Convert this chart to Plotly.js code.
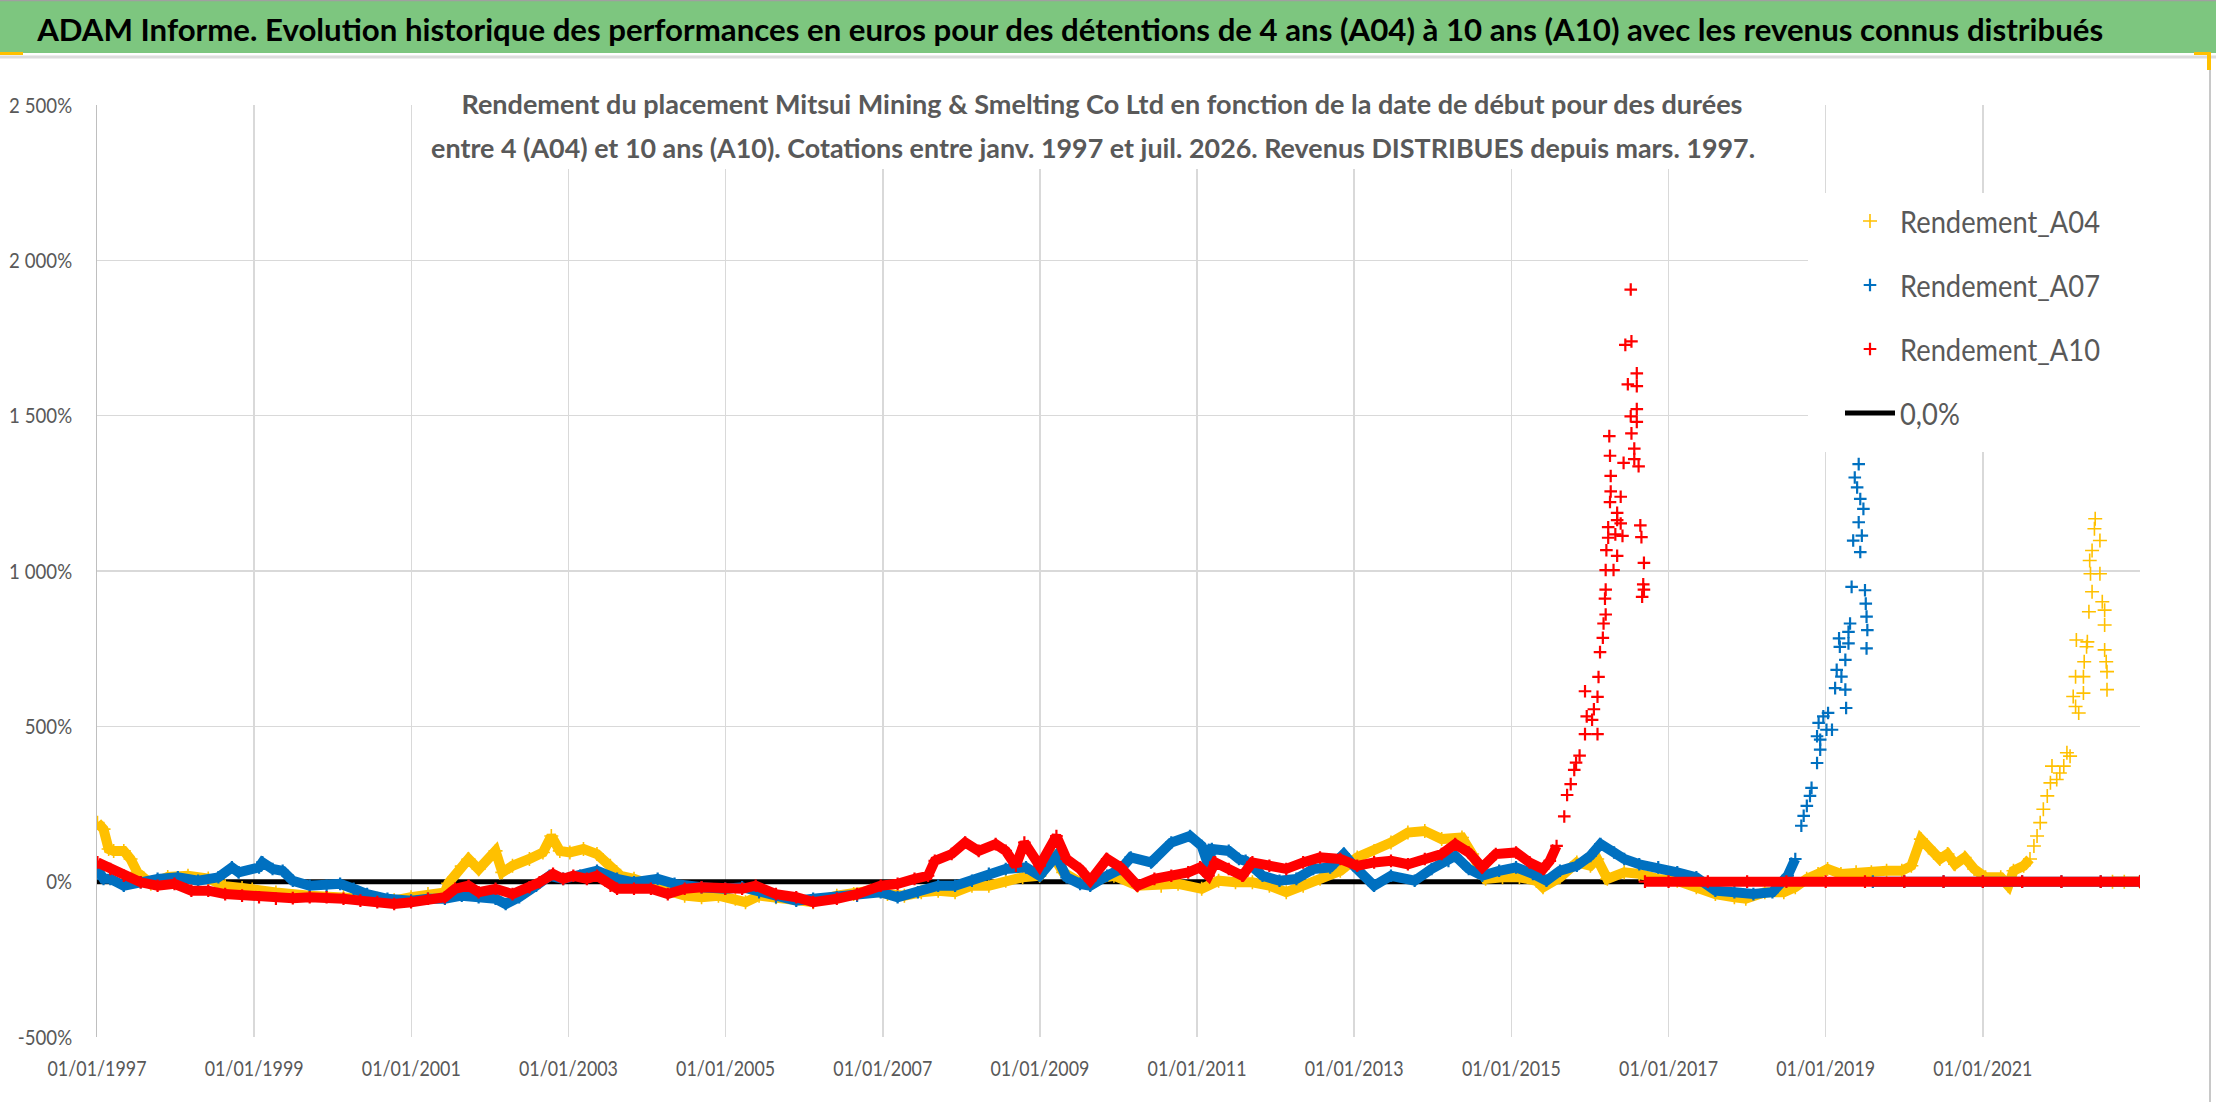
<!DOCTYPE html>
<html><head><meta charset="utf-8">
<script src="https://cdn.plot.ly/plotly-3.0.1.min.js"></script>
<style>html,body{margin:0;padding:0;background:#fff;overflow:hidden}#chart{width:2216px;height:1102px}</style>
</head><body><div id="chart"></div><script>
// ---- DATA (x = start date in decimal years, y = return in %) ----
const xTickVals = [1997, 1999, 2001, 2003, 2005, 2007, 2009, 2011, 2013, 2015, 2017, 2019, 2021];
const xTickText = ['01/01/1997','01/01/1999','01/01/2001','01/01/2003','01/01/2005','01/01/2007','01/01/2009','01/01/2011','01/01/2013','01/01/2015','01/01/2017','01/01/2019','01/01/2021'];
const yTickVals = [-500, 0, 500, 1000, 1500, 2000, 2500];
const yTickText = ['-500%', '0%', '500%', '1 000%', '1 500%', '2 000%', '2 500%'];

const datesA04 = [
 1997.006,1997.083,1997.148,1997.212,1997.341,1997.427,1997.513,1997.599,1997.685,1997.900,
 1998.158,1998.416,1998.631,1998.846,1998.975,1999.277,1999.707,2000.137,2000.567,2000.782,
 2000.997,2001.212,2001.427,2001.470,2001.642,2001.728,2001.857,2002.072,2002.158,2002.288,
 2002.503,2002.675,2002.782,2002.890,2003.018,2003.191,2003.363,2003.533,2003.662,2003.834,
 2004.049,2004.264,2004.479,2004.694,2004.909,2005.124,2005.253,2005.426,2005.641,2005.899,
 2006.114,2006.415,2006.630,2006.845,2007.060,2007.275,2007.490,2007.705,2007.920,2008.135,
 2008.350,2008.565,2008.780,2008.996,2009.167,2009.296,2009.511,2009.727,2009.942,2010.242,
 2010.543,2010.758,2011.059,2011.274,2011.489,2011.704,2011.920,2012.135,2012.350,2012.565,
 2012.823,2013.038,2013.253,2013.468,2013.683,2013.898,2014.113,2014.371,2014.500,2014.672,
 2014.887,2015.102,2015.317,2015.403,2015.618,2015.833,2016.006,2016.092,2016.221,2016.436,
 2016.627,2016.869,2017.111,2017.354,2017.596,2017.838,2017.983,2018.225,2018.467,2018.613,
 2018.758,2018.903,2019.024,2019.194,2019.387,2019.581,2019.775,2019.969,2020.090,2020.211,
 2020.308,2020.453,2020.550,2020.646,2020.768,2020.889,2021.034,2021.228,2021.324,2021.390,
 2021.520,2021.600,2021.650,2021.690,2021.730,2021.770,2021.820,2021.860,2021.880,2021.940,
 2021.980,2022.030,2022.070,2022.110,2022.150,2022.180,2022.180,2022.190,2022.220,2022.280,
 2022.280,2022.290,2022.320,2022.330,2022.350,2022.360,2022.370,2022.390,2022.390,2022.420,
 2022.430,2022.490,2022.490,2022.520,2022.550,2022.550,2022.550,2022.570,2022.580,2022.580,
 2022.650,2022.800,2023.000];
const rendA04 = [
 190,169,105,99,99,73,30,9,-7,15,
 19,10,-15,-20,-25,-35,-45,-50,-55,-60,
 -50,-40,-35,-5,50,73,40,99,30,51,
 73,94,147,99,94,105,89,51,19,9,
 -13,-29,-45,-50,-45,-55,-66,-45,-50,-55,
 -66,-45,-40,-29,-40,-45,-34,-29,-34,-13,
 -13,3,14,19,83,30,-2,9,19,-13,
 -13,-7,-23,3,-2,-2,-13,-34,-13,9,
 35,78,99,126,158,163,137,142,89,9,
 14,14,3,-18,14,62,51,73,9,30,
 25,9,3,-18,-40,-50,-55,-34,-34,-18,
 9,25,41,25,30,30,35,35,51,137,
 110,73,89,56,78,41,14,14,-13,35,
 51,73,115,147,190,233,276,318,372,329,
 350,372,415,404,596,564,660,778,543,607,
 660,708,756,772,869,1034,991,933,1066,1136,
 1168,1098,991,901,874,826,746,708,676,618,
 0,0,0];

const datesA07 = [
 1997.006,1997.083,1997.169,1997.341,1997.556,1997.771,1998.029,1998.287,1998.545,1998.717,
 1998.803,1999.062,1999.105,1999.234,1999.363,1999.492,1999.707,1999.922,2000.094,2000.266,
 2000.438,2000.696,2000.997,2001.212,2001.427,2001.642,2001.857,2002.072,2002.201,2002.373,
 2002.589,2002.761,2002.933,2003.148,2003.363,2003.619,2003.834,2004.135,2004.350,2004.694,
 2004.995,2005.210,2005.426,2005.641,2005.899,2006.114,2006.415,2006.673,2006.974,2007.189,
 2007.447,2007.705,2007.920,2008.135,2008.350,2008.565,2008.823,2008.996,2009.210,2009.339,
 2009.511,2009.640,2009.856,2010.030,2010.156,2010.414,2010.672,2010.909,2011.059,2011.145,
 2011.188,2011.403,2011.532,2011.618,2011.833,2012.049,2012.264,2012.479,2012.694,2012.866,
 2012.995,2013.253,2013.468,2013.769,2013.984,2014.199,2014.285,2014.457,2014.629,2014.844,
 2015.059,2015.274,2015.446,2015.618,2015.833,2016.006,2016.135,2016.307,2016.436,2016.627,
 2016.869,2017.111,2017.354,2017.596,2017.838,2018.080,2018.322,2018.516,2018.613,2018.690,
 2018.720,2018.760,2018.800,2018.820,2018.890,2018.890,2018.910,2018.930,2018.930,2018.970,
 2019.010,2019.030,2019.080,2019.120,2019.140,2019.170,2019.180,2019.200,2019.250,2019.250,
 2019.260,2019.290,2019.290,2019.310,2019.330,2019.350,2019.370,2019.400,2019.420,2019.420,
 2019.440,2019.440,2019.460,2019.480,2019.500,2019.510,2019.520,2019.520,2019.530,2019.600,
 2020.000,2020.500,2021.000,2021.500,2022.000,2022.500,2023.000];
const rendA07 = [
 41,9,9,-13,-2,9,14,3,14,46,
 30,46,62,41,35,3,-13,-13,-7,-23,
 -40,-55,-61,-55,-55,-45,-50,-55,-72,-50,
 -13,19,9,19,35,9,-2,9,-7,-18,
 -23,-18,-34,-50,-61,-55,-50,-45,-34,-50,
 -34,-13,-13,3,25,41,46,19,83,14,
 -7,-13,19,41,78,62,126,147,115,51,
 105,99,73,67,19,3,9,41,46,89,
 51,-13,19,3,41,67,83,41,19,35,
 46,25,3,35,51,83,121,94,73,56,
 46,30,14,-29,-34,-40,-34,19,73,180,
 212,244,276,302,382,468,511,425,457,532,
 489,543,489,623,682,783,756,660,618,714,
 559,767,804,831,949,1098,1301,1269,1157,1344,
 1061,1232,1114,1200,938,895,853,751,810,0,
 0,0,0,0,0,0,0];

const datesA10 = [
 1997.006,1997.169,1997.341,1997.556,1997.771,1997.986,1998.201,1998.416,1998.631,1998.846,
 1999.062,1999.277,1999.492,1999.707,1999.922,2000.137,2000.352,2000.567,2000.782,2000.997,
 2001.212,2001.427,2001.556,2001.728,2001.857,2002.072,2002.288,2002.503,2002.632,2002.804,
 2002.933,2003.062,2003.234,2003.363,2003.535,2003.619,2003.834,2004.049,2004.264,2004.479,
 2004.694,2004.995,2005.210,2005.383,2005.641,2005.899,2006.114,2006.415,2006.673,2006.974,
 2007.189,2007.404,2007.576,2007.662,2007.877,2008.049,2008.221,2008.436,2008.565,2008.694,
 2008.802,2008.996,2009.210,2009.339,2009.511,2009.640,2009.856,2010.028,2010.242,2010.457,
 2010.672,2010.887,2011.038,2011.145,2011.231,2011.403,2011.575,2011.704,2011.920,2012.135,
 2012.350,2012.565,2012.823,2013.038,2013.253,2013.468,2013.683,2013.898,2014.113,2014.285,
 2014.457,2014.629,2014.801,2015.059,2015.231,2015.403,2015.489,2015.575,2015.673,2015.709,
 2015.755,2015.800,2015.823,2015.868,2015.937,2015.937,2015.959,2016.027,2016.050,2016.096,
 2016.096,2016.109,2016.128,2016.164,2016.173,2016.191,2016.200,2016.200,2016.200,2016.209,
 2016.232,2016.232,2016.246,2016.255,2016.255,2016.264,2016.264,2016.300,2016.323,2016.346,
 2016.346,2016.346,2016.391,2016.391,2016.414,2016.428,2016.450,2016.482,2016.519,2016.519,
 2016.528,2016.528,2016.564,2016.564,2016.596,2016.596,2016.596,2016.596,2016.619,2016.641,
 2016.655,2016.664,2016.678,2016.687,2016.687,2016.700,2017.000,2017.500,2018.000,2018.500,
 2019.000,2019.500,2020.000,2020.500,2021.000,2021.500,2022.000,2022.500,2023.000];
const rendA10 = [
 62,41,19,-2,-13,-7,-29,-29,-40,-45,
 -50,-55,-53,-50,-50,-55,-61,-66,-72,-66,
 -55,-50,-23,-13,-34,-23,-40,-18,-2,25,
 9,19,9,19,-13,-23,-23,-23,-40,-23,
 -18,-23,-23,-13,-40,-50,-66,-55,-40,-13,
 -7,9,19,67,89,126,99,121,99,51,
 126,51,147,73,41,3,73,46,-13,9,
 19,30,46,19,62,41,19,62,51,41,
 62,78,73,51,62,67,56,73,89,121,
 94,46,89,94,62,41,67,115,210,279,
 314,360,383,406,475,613,532,521,555,475,
 595,659,739,785,831,911,860,940,1003,1067,
 1107,1141,1434,1222,1371,1256,1306,1003,1118,1049,
 1164,1187,1153,1239,1113,1348,1728,1601,1498,1906,
 1443,1739,1360,1394,1480,1521,1636,1595,1337,1147,
 1109,917,957,1026,940,0,0,0,0,0,
 0,0,0,0,0,0,0,0,0];

const zeroDates = [1997, 2023];
const zeroVals = [0, 0];

// periods where the points are scattered (no continuous band)
const scatteredA04 = [2021.62, 2022.60];
const scatteredA07 = [2018.65, 2019.55];
const scatteredA10 = [2015.60, 2016.695];

const seriesNames = ['Rendement_A04', 'Rendement_A07', 'Rendement_A10', '0,0%'];
const titleText = 'ADAM Informe. Evolution historique des performances en euros pour des détentions de 4 ans (A04) à 10 ans (A10) avec les revenus connus distribués';
const subLine1 = 'Rendement du placement Mitsui Mining &amp; Smelting Co Ltd en fonction de la date de début pour des durées';
const subLine2 = 'entre 4 (A04) et 10 ans (A10). Cotations entre janv. 1997 et juil. 2026. Revenus DISTRIBUES depuis mars. 1997.';

// ---- LAYOUT HELPERS ----
const PL = 97, PR = 2140, PT = 105, PB = 1037;
const px = v => (v - PL) / (PR - PL);
const py = v => (PB - v) / (PB - PT);
const FONT = "Lato, 'Open Sans', sans-serif";
const GREY = '#595959';

function bandY(xs, ys, r) { return ys.map((v, i) => (xs[i] >= r[0] && xs[i] <= r[1]) ? null : v); }

function seriesTraces(xs, ys, r, name, col, grp, rank, msize, mwidth) {
  return [
    { x: xs, y: bandY(xs, ys, r), type: 'scatter', mode: 'lines', line: { color: col, width: 10 },
      showlegend: false, legendgroup: grp, hoverinfo: 'skip', connectgaps: false },
    { x: xs, y: ys, type: 'scatter', mode: 'markers', name: name, legendgroup: grp, legendrank: rank,
      marker: { symbol: 'cross-thin', size: msize, color: col, line: { color: col, width: mwidth } } }
  ];
}

const traces = [
  { x: zeroDates, y: zeroVals, type: 'scatter', mode: 'lines', name: seriesNames[3], legendgroup: 'z', legendrank: 4,
    line: { color: '#000000', width: 5 } },
  ...seriesTraces(datesA04, rendA04, scatteredA04, seriesNames[0], '#FFC000', 'a04', 1, 10, 1.6),
  ...seriesTraces(datesA07, rendA07, scatteredA07, seriesNames[1], '#0070C0', 'a07', 2, 9, 2.2),
  ...seriesTraces(datesA10, rendA10, scatteredA10, seriesNames[2], '#FF0000', 'a10', 3, 9, 2.2)
];

const rect = (x0, y0, x1, y1, fill, layer) => ({ type: 'rect', xref: 'paper', yref: 'paper',
  x0: px(x0), x1: px(x1), y0: py(y1), y1: py(y0), fillcolor: fill, line: { width: 0 }, layer: layer });
const seg = (x0, y0, x1, y1, col, w) => ({ type: 'line', xref: 'paper', yref: 'paper',
  x0: px(x0), x1: px(x1), y0: py(y0), y1: py(y1), line: { color: col, width: w }, layer: 'above' });

const layout = {
  width: 2216, height: 1102,
  margin: { l: PL, r: 2216 - PR, t: PT, b: 1102 - PB, pad: 0 },
  paper_bgcolor: '#ffffff', plot_bgcolor: '#ffffff',
  font: { family: FONT, color: GREY },
  showlegend: true,
  legend: { x: px(1840), y: py(195), xanchor: 'left', yanchor: 'top', bgcolor: 'rgba(255,255,255,0)',
    font: { family: FONT, size: 30, color: GREY }, itemwidth: 50, traceorder: 'grouped', tracegroupgap: 22, borderwidth: 0 },
  xaxis: { type: 'linear', range: [1997, 2023], tickmode: 'array', tickvals: xTickVals, ticktext: xTickText,
    showgrid: true, gridcolor: '#d9d9d9', gridwidth: 1.5, showline: false, zeroline: false, ticks: '',
    tickfont: { family: FONT, size: 22, color: GREY }, ticklabelstandoff: 16, fixedrange: true },
  yaxis: { range: [-500, 2500], tickmode: 'array', tickvals: yTickVals, ticktext: yTickText,
    showgrid: true, gridcolor: '#d9d9d9', gridwidth: 1.5, showline: true, linecolor: '#bfbfbf', linewidth: 1.5,
    zeroline: false, ticks: '', tickfont: { family: FONT, size: 22, color: GREY }, ticklabelstandoff: 19, fixedrange: true },
  shapes: [
    rect(0, 1, 2216, 53, '#7DC67F', 'below'),
    seg(0, 0.5, 2216, 0.5, '#a0a0a0', 1.5),
    seg(0, 57, 2216, 57, '#dcdcdc', 3),
    seg(0, 53.5, 23, 53.5, '#FFC000', 3),
    seg(2194, 53.5, 2211, 53.5, '#FFC000', 3),
    seg(2209, 53, 2209, 70, '#FFC000', 4),
    seg(2210, 70, 2210, 1102, '#c8c8c8', 2),
    rect(439, 82, 1764, 169, '#ffffff', 'above'),
    rect(1808, 193, 2140, 452, '#ffffff', 'above')
  ],
  annotations: [
    { text: '<b>' + titleText + '</b>', xref: 'paper', yref: 'paper', x: px(1069), y: py(29), xanchor: 'center', yanchor: 'middle',
      showarrow: false, borderpad: 0, font: { family: FONT, size: 30, color: '#000000' } },
    { text: '<b>' + subLine1 + '</b>', xref: 'paper', yref: 'paper', x: px(1102), y: py(104), xanchor: 'center', yanchor: 'middle',
      showarrow: false, borderpad: 0, font: { family: FONT, size: 27, color: GREY } },
    { text: '<b>' + subLine2 + '</b>', xref: 'paper', yref: 'paper', x: px(1093), y: py(147), xanchor: 'center', yanchor: 'middle',
      showarrow: false, borderpad: 0, font: { family: FONT, size: 27, color: GREY } }
  ]
};

// the reference uses a narrow typeface: compress the rendered texts horizontally to the measured widths
function fitWidth(el, target) {
  el.setAttribute('textLength', target.toFixed(1));
  el.setAttribute('lengthAdjust', 'spacingAndGlyphs');
}
function squeezeGroup(els, refIndex, refWidth) {
  if (!els.length) return;
  const n = els[refIndex].getComputedTextLength();
  if (!(n > 0)) return;
  const f = refWidth / n;
  els.forEach(el => fitWidth(el, el.getComputedTextLength() * f));
}

Plotly.newPlot('chart', traces, layout, { staticPlot: true, displayModeBar: false }).then(gd => {
  const annWidths = [2066, 1281, 1324];
  gd.querySelectorAll('.annotation').forEach((g, i) => {
    const el = g.querySelector('.annotation-text');
    if (!el || !annWidths[i]) return;
    fitWidth(el, annWidths[i]);
    const bg = g.querySelector('rect.bg');
    if (bg) {
      const w = parseFloat(bg.getAttribute('width')) || 0;
      const x = parseFloat(bg.getAttribute('x')) || 0;
      const nw = annWidths[i] + 4;
      bg.setAttribute('x', (x + (w - nw) / 2).toFixed(1));
      bg.setAttribute('width', nw.toFixed(1));
    }
  });
  squeezeGroup(Array.from(gd.querySelectorAll('.legendtext')), 0, 200);
  const yt = Array.from(gd.querySelectorAll('.ytick text'));
  const yi = yt.findIndex(t => t.textContent.indexOf('2') === 0 && t.textContent.length > 4);
  squeezeGroup(yt, yi < 0 ? 0 : yi, 63);
  squeezeGroup(Array.from(gd.querySelectorAll('.xtick text')), 0, 99);
});
</script></body></html>
